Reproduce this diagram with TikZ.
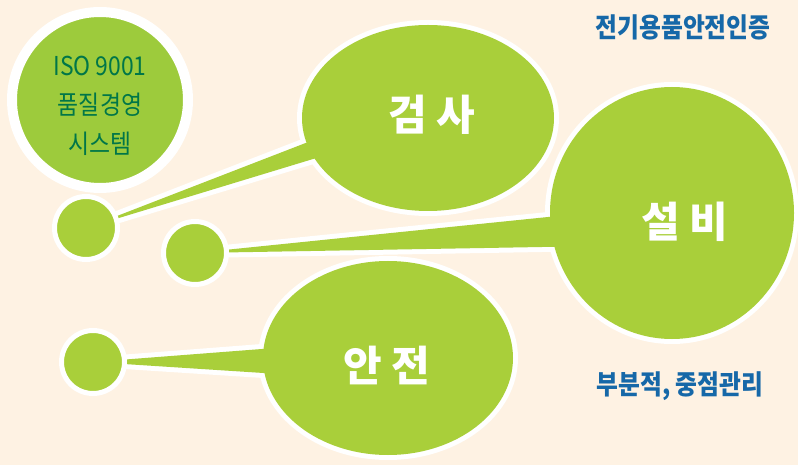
\documentclass[tikz,border=0pt]{standalone}
\usepackage{fontspec}
\newfontfamily\krfont{Noto Sans CJK KR}
\newfontfamily\krnarrow[FakeStretch=0.88]{Noto Sans CJK KR}
\usetikzlibrary{calc}

\definecolor{bgcream}{RGB}{254,242,227}
\definecolor{leafgreen}{RGB}{169,207,58}
\definecolor{isogreen}{RGB}{157,203,60}
\definecolor{isotext}{RGB}{0,118,72}
\definecolor{titleblue}{RGB}{22,104,168}

\tikzset{
	rim/.style={draw=white, line width=10pt, line join=round},
	leaf/.style={fill=leafgreen},
	dot/.style={circle, fill=leafgreen, draw=white, line width=5pt,
		minimum size=63pt, inner sep=0pt, outer sep=0pt},
	word/.style={text=white, font=\krfont\bfseries\fontsize{42}{48}\selectfont},
	caption/.style={text=titleblue, font=\krnarrow\bfseries\fontsize{27}{32}\selectfont},
}

\begin{document}
\begin{tikzpicture}[x=1pt, y=-1pt]

% background %{{{2

	\fill[bgcream] (0,0) rectangle (798,465);
	\useasboundingbox (0,0) rectangle (798,465);

% coordinate %{{{2

	\coordinate (G) at (428,118);
	\coordinate (S) at (672,213);
	\coordinate (A) at (388,358);

	\coordinate (G1) at (340,129.7);
	\coordinate (G2) at (340,150.8);
	\coordinate (S1) at (600,211.7);
	\coordinate (S2) at (600,246);
	\coordinate (A1) at (310,345.3);
	\coordinate (A2) at (310,376);

% small dots (only positions first) %{{{2

	\path (86,228) coordinate (d1);
	\path (195,253) coordinate (d2);
	\path (93,362) coordinate (d3);

% iso circle %{{{2

	\node[circle, fill=isogreen, draw=white, line width=10pt, minimum size=176pt,
		inner sep=0pt] (iso) at (100,100) {};
	\node[align=center, text=isotext,
		font=\krnarrow\fontsize{26}{39}\selectfont] (isotxt) at (100,106)
		{ISO 9001\\품질경영\\시스템};

% bubble with tail: inspection %{{{2

	\path[rim] (G) ellipse [x radius=126pt, y radius=93pt];
	\path[rim] (d1) -- (G1) -- (G2) -- cycle;
	\fill[leafgreen] (G) ellipse [x radius=126pt, y radius=93pt];
	\fill[leafgreen] (d1) -- (G1) -- (G2) -- cycle;

% bubble with tail: facility %{{{2

	\path[rim] (S) ellipse [x radius=122pt, y radius=126pt];
	\path[rim] (d2) -- (S1) -- (S2) -- cycle;
	\fill[leafgreen] (S) ellipse [x radius=122pt, y radius=126pt];
	\fill[leafgreen] (d2) -- (S1) -- (S2) -- cycle;

% bubble with tail: safety %{{{2

	\path[rim] (A) ellipse [x radius=125pt, y radius=97pt];
	\path[rim] (d3) -- (A1) -- (A2) -- cycle;
	\fill[leafgreen] (A) ellipse [x radius=125pt, y radius=97pt];
	\fill[leafgreen] (d3) -- (A1) -- (A2) -- cycle;

% small dots %{{{2

	\node[dot] (dot1) at (d1) {};
	\node[dot] (dot2) at (d2) {};
	\node[dot] (dot3) at (d3) {};

% bubble labels %{{{2

	\node[word] (inspect) at (432,115) {검 사};
	\node[word] (facility) at (685,222) {설 비};
	\node[word] (safety) at (387,365) {안 전};

% captions %{{{2

	\node[caption] (cert) at (683,27) {전기용품안전인증};
	\node[caption] (focus) at (680,386) {부분적, 중점관리};

\end{tikzpicture}
\end{document}
